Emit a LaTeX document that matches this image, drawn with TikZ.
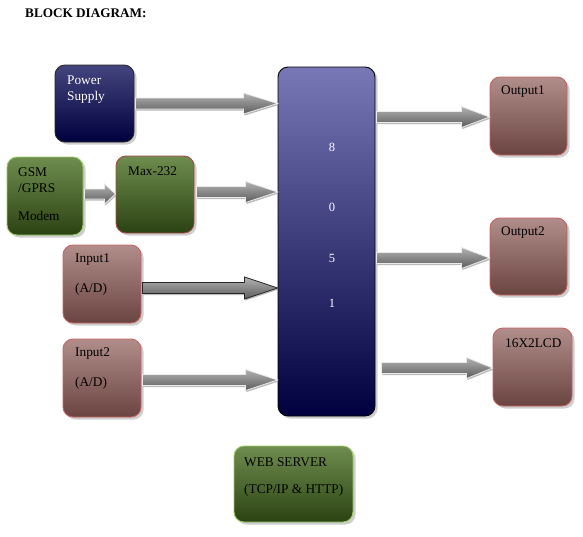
\documentclass[tikz,border=0pt]{standalone}
\usepackage{fontspec}
\setmainfont{Liberation Serif}
\usetikzlibrary{calc,shadows}
\definecolor{blueT}{HTML}{44447E}
\definecolor{blueB}{HTML}{00003E}
\definecolor{cpuT}{HTML}{7878B6}
\definecolor{cpuM}{HTML}{3A3A7C}
\definecolor{greenT}{HTML}{6F8D4F}
\definecolor{greenB}{HTML}{2B4212}
\definecolor{greenE}{HTML}{9BCB68}
\definecolor{pinkT}{HTML}{B18E8B}
\definecolor{pinkB}{HTML}{6A4440}
\definecolor{pinkE}{HTML}{C66262}
\definecolor{redE}{HTML}{A44848}
\tikzset{
  blk/.style={rounded corners=10pt, line width=0.9pt, inner sep=0pt,
    drop shadow={shadow xshift=2.5pt, shadow yshift=-2.5pt, fill=gray!70, opacity=0.55}},
  bluebox/.style={blk, draw=black!85, top color=blueT, bottom color=blueB},
  cpubox/.style={blk, draw=black, top color=cpuT, middle color=cpuM, bottom color=blueB},
  greenbox/.style={blk, draw=greenE, top color=greenT, bottom color=greenB},
  pinkbox/.style={blk, draw=pinkE, top color=pinkT, bottom color=pinkB},
  lbl/.style={anchor=west, inner sep=0pt, font=\fontsize{13.3}{15}\selectfont, text=black},
  wlbl/.style={lbl, text=white},
  dig/.style={inner sep=0pt, font=\fontsize{12.5}{14}\selectfont, text=white},
  fatarr/.style={top color=black!30, middle color=black!48, bottom color=black!64,
    draw=black!8, line width=0.8pt, line join=miter,
    drop shadow={shadow xshift=0.8pt, shadow yshift=-1.6pt, fill=black!45, opacity=0.6}},
}
% fat arrow: #1 extra style, #2 start, #3 end, #4 head length, #5 shaft half, #6 head half
\newcommand{\fatarrow}[6][]{%
  \coordinate (fa1) at #2;
  \coordinate (fa2) at #3;
  \coordinate (fa3) at (fa2 |- fa1);
  \path[fatarr,#1] ([yshift=#5pt]fa1) -- ([xshift=-#4pt,yshift=#5pt]fa3)
    -- ([xshift=-#4pt,yshift=#6pt]fa3) -- (fa3) -- ([xshift=-#4pt,yshift=-#6pt]fa3)
    -- ([xshift=-#4pt,yshift=-#5pt]fa3) -- ([yshift=-#5pt]fa1) -- cycle;}
\begin{document}
\begin{tikzpicture}[x=1pt,y=-1pt]
\useasboundingbox (0,0) rectangle (583,536);
\node[anchor=west, inner sep=0pt, font=\fontsize{13.2}{15}\selectfont\bfseries] (title) at (25,13) {BLOCK DIAGRAM:};

% blocks
\node[bluebox, minimum width=79pt, minimum height=77pt] (ps) at (94.5,103.5) {};
\node[greenbox, minimum width=76pt, minimum height=78pt] (gsm) at (45,196) {};
\node[greenbox, draw=redE, minimum width=78pt, minimum height=77pt] (max) at (155,194.5) {};
\node[pinkbox, minimum width=78pt, minimum height=78pt] (in1) at (102,284) {};
\node[pinkbox, minimum width=78pt, minimum height=78pt] (in2) at (102,378) {};
\node[cpubox, minimum width=97pt, minimum height=349pt] (cpu) at (326.5,241.5) {};
\node[pinkbox, minimum width=77pt, minimum height=78pt] (out1) at (528.5,116) {};
\node[pinkbox, minimum width=77pt, minimum height=77pt] (out2) at (528.5,256.5) {};
\node[pinkbox, minimum width=79pt, minimum height=78pt] (lcd) at (532.5,367) {};
\node[greenbox, minimum width=119pt, minimum height=76pt] (web) at (293.5,484) {};

% labels
\node[wlbl] at (67,80) {Power};
\node[wlbl] at (67,97) {Supply};
\node[lbl] at (18,172) {GSM};
\node[lbl] at (18,188) {/GPRS};
\node[lbl] at (18,216) {Modem};
\node[lbl] at (128,171) {Max-232};
\node[lbl] at (75,260) {Input1};
\node[lbl] at (75,289) {(A/D)};
\node[lbl] at (75,354) {Input2};
\node[lbl] at (75,383) {(A/D)};
\node[lbl] at (501,92) {Output1};
\node[lbl] at (501,233) {Output2};
\node[lbl] at (505,343) {16X2LCD};
\node[lbl] at (244,462) {WEB SERVER};
\node[lbl] at (244,490) {(TCP/IP \& HTTP)};
\node[dig] at (332,147) {8};
\node[dig] at (332,207) {0};
\node[dig] at (332,258) {5};
\node[dig] at (332,303) {1};

% arrows
\fatarrow{([xshift=1pt]ps.east)}{(cpu.west |- ps.east)}{34}{5.5}{10.5}
\fatarrow{([xshift=1pt,yshift=2pt]gsm.east)}{([yshift=2pt]max.west |- gsm.east)}{11}{5}{10}
\fatarrow{([xshift=2pt,yshift=2.5pt]max.east)}{([yshift=2.5pt]cpu.west |- max.east)}{32}{5.5}{10.5}
\fatarrow[draw=black!85]{([xshift=1pt,yshift=-4pt]in1.east)}{([yshift=-4pt]cpu.west |- in1.east)}{33}{5.5}{11}
\fatarrow{([xshift=1pt,yshift=-2pt]in2.east)}{([yshift=-2pt]cpu.west |- in2.east)}{32}{5.5}{10.5}
\fatarrow{([xshift=1pt,yshift=-1pt]cpu.east |- out1.west)}{([yshift=-1pt]out1.west)}{28}{5.5}{10.5}
\fatarrow{([xshift=1pt,yshift=-1.5pt]cpu.east |- out2.west)}{([yshift=-1.5pt]out2.west)}{28}{5.5}{10.5}
\fatarrow{([xshift=6pt,yshift=-1pt]cpu.east |- lcd.west)}{([yshift=-1pt]lcd.west)}{26}{5.5}{10.5}
\end{tikzpicture}
\end{document}
